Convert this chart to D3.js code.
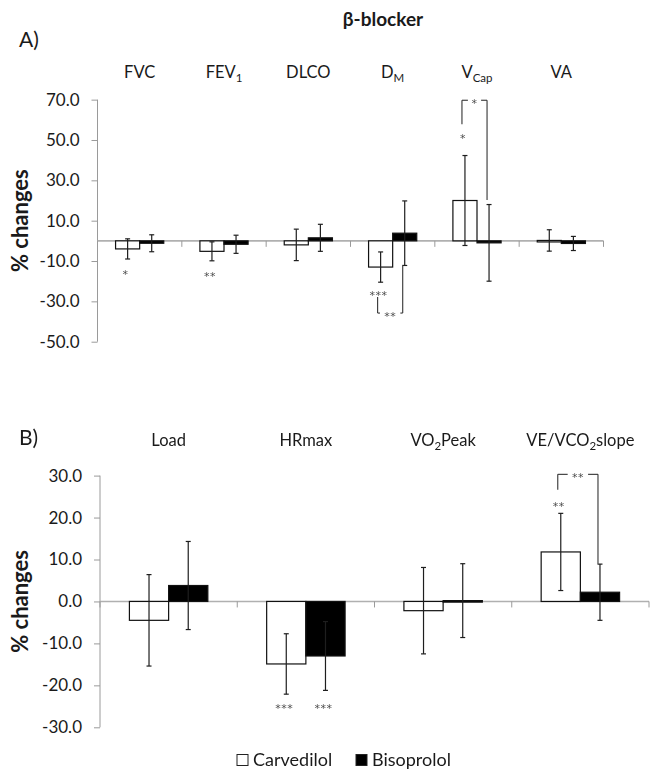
<!DOCTYPE html>
<html><head><meta charset="utf-8">
<script src="https://cdn.jsdelivr.net/npm/d3@7"></script>
<style>body{margin:0;background:#fff}svg{display:block}text{font-family:Lato,"Open Sans",sans-serif;fill:#1a1a1a}.stars{opacity:0.99;will-change:transform}</style>
</head><body><svg id="c" width="662" height="773"></svg>
<script>
// ---------- data ----------
const chartTitle = "β-blocker";
const seriesNames = ["Carvedilol", "Bisoprolol"];

const panelLabels = ["A)", "B)"];

const catsA = ["FVC", "FEV_{1}", "DLCO", "D_{M}", "V_{Cap}", "VA"];
const carvA = [-4.0, -5.2, -2.0, -13.0, 20.0, 0.2];
const carvErrA = [5.0, 4.7, 7.8, 7.5, 22.3, 5.3];
const bisoA = [-1.2, -1.7, 1.5, 3.8, -1.0, -1.3];
const bisoErrA = [4.2, 4.5, 6.7, 16.0, 19.0, 3.5];
const ticksA = [-50, -30, -10, 10, 30, 50, 70];
const starsA = [
  {cat: 0, series: 0, text: "*", at: -15.3},
  {cat: 1, series: 0, text: "**", at: -16.4},
  {cat: 3, series: 0, text: "***", at: -25.5},
  {cat: 4, series: 0, text: "*", at: 52.0}
];
const bracketsA = [
  {cat: 3, text: "**", level: -35.8, leftEnd: -27.8, rightEnd: -12.5},
  {cat: 4, text: "*", level: 69.7, leftEnd: 57.8, rightEnd: 20.3}
];

const catsB = ["Load", "HRmax", "VO_{2}Peak", "VE/VCO_{2}slope"];
const carvB = [-4.5, -14.9, -2.2, 11.8];
const carvErrB = [10.9, 7.2, 10.3, 9.2];
const bisoB = [3.8, -13.0, 0.2, 2.2];
const bisoErrB = [10.5, 8.2, 8.8, 6.7];
const ticksB = [-30, -20, -10, 0, 10, 20, 30];
const starsB = [
  {cat: 1, series: 0, text: "***", at: -24.9},
  {cat: 1, series: 1, text: "***", at: -24.9},
  {cat: 3, series: 0, text: "**", at: 23.4}
];
const bracketsB = [
  {cat: 3, text: "**", level: 30.3, leftEnd: 26.6, rightEnd: 9.0}
];

// ---------- drawing ----------
const svg = d3.select("#c");
const axisColor = "#9a9a9a";
const ink = "#1e1e1e";

svg.append("text").attr("x", 383).attr("y", 26).attr("text-anchor", "middle")
  .style("font-weight", "bold").style("font-size", "19px").text(chartTitle);

function richText(sel, s, subSize) {
  const parts = s.split(/_\{([^}]*)\}/);
  parts.forEach((p, i) => {
    if (!p) return;
    if (i % 2 === 1) {
      sel.append("tspan").attr("dy", 4).style("font-size", subSize).text(p);
    } else {
      const t = sel.append("tspan").text(p);
      if (i > 0) t.attr("dy", -4);
    }
  });
}

function panel(cfg) {
  const g = svg.append("g");
  const x = d3.scaleBand().domain(d3.range(cfg.cats.length)).range([cfg.left, cfg.right]);
  const xs = d3.scaleBand().domain([0, 1]).range([0, x.bandwidth()]).paddingInner(0).paddingOuter(0.75);
  const y = d3.scaleLinear().domain(cfg.domain).range([cfg.bottom, cfg.top]);
  const y0 = y(0);

  // panel label
  g.append("text").attr("x", 19).attr("y", cfg.labelY).style("font-size", "21px").text(cfg.label);

  // category labels
  cfg.cats.forEach((c, i) => {
    const t = g.append("text").attr("x", x(i) + x.bandwidth() / 2).attr("y", cfg.catY)
      .attr("text-anchor", "middle").style("font-size", "16.5px");
    richText(t, c, "11.5px");
  });

  // y axis
  const ax = g.append("g").attr("transform", `translate(${cfg.left},0)`)
    .call(d3.axisLeft(y).tickValues(cfg.ticks).tickSize(6).tickSizeOuter(0).tickPadding(12)
      .tickFormat(v => v.toFixed(1)));
  ax.select(".domain").attr("stroke", axisColor).attr("d", `M0,${y(cfg.domain[1])}V${y(cfg.domain[0])}`);
  ax.selectAll(".tick line").attr("stroke", axisColor);
  ax.selectAll(".tick text").style("font-size", "17px").style("font-family", "Lato, sans-serif").attr("fill", "#1a1a1a");

  // y title
  g.append("text").attr("transform", `translate(${cfg.titleX},${(cfg.top + cfg.bottom) / 2}) rotate(-90)`)
    .attr("text-anchor", "middle").attr("dy", "0.35em")
    .style("font-weight", "bold").style("font-size", "22px").text("% changes");

  // zero line
  g.append("line").attr("x1", cfg.left).attr("x2", cfg.right).attr("y1", y0).attr("y2", y0)
    .attr("stroke", "#b0b0b0").attr("stroke-width", 1.6);
  // category ticks
  d3.range(cfg.cats.length + 1).forEach(i => {
    const xx = i < cfg.cats.length ? x(i) : cfg.right;
    g.append("line").attr("x1", xx).attr("x2", xx).attr("y1", y0).attr("y2", y0 + 6)
      .attr("stroke", axisColor);
  });

  const series = [
    {vals: cfg.carv, err: cfg.carvErr, fill: "#fff"},
    {vals: cfg.biso, err: cfg.bisoErr, fill: "#000"}
  ];
  const cx = (i, s) => x(i) + xs(s) + xs.bandwidth() / 2;

  series.forEach((ser, s) => {
    ser.vals.forEach((v, i) => {
      const yv = y(v);
      g.append("rect").attr("x", x(i) + xs(s)).attr("width", xs.bandwidth())
        .attr("y", Math.min(yv, y0)).attr("height", Math.max(Math.abs(yv - y0), 1.5))
        .attr("fill", ser.fill).attr("stroke", "#111").attr("stroke-width", 1.2);
    });
  });
  series.forEach((ser, s) => {
    ser.vals.forEach((v, i) => {
      const c = cx(i, s), hi = y(v + ser.err[i]), lo = y(v - ser.err[i]);
      g.append("line").attr("x1", c).attr("x2", c).attr("y1", hi).attr("y2", lo)
        .attr("stroke", ink).attr("stroke-width", 1.2);
      [hi, lo].forEach(yy => g.append("line").attr("x1", c - 2.5).attr("x2", c + 2.5)
        .attr("y1", yy).attr("y2", yy).attr("stroke", ink).attr("stroke-width", 1.2));
    });
  });

  // significance stars
  const sg = g.append("g").attr("class", "stars");
  const starText = (xx, yy, txt) => sg.append("text").attr("x", xx).attr("y", yy + 6.5)
    .attr("text-anchor", "middle").style("font-size", "11px").style("font-family", "'DejaVu Sans', sans-serif")
    .style("letter-spacing", "0.5px").style("fill", "#4a4a4a").text(txt);
  cfg.stars.forEach(st => starText(cx(st.cat, st.series) - 2, y(st.at), st.text));

  cfg.brackets.forEach(b => {
    const xl = cx(b.cat, 0) - 3, xr = cx(b.cat, 1) - 2, yl = y(b.level);
    const mid = (xl + xr) / 2, half = b.text.length * 3.6 + 3;
    const ln = (x1, y1, x2, y2) => g.append("line").attr("x1", x1).attr("y1", y1)
      .attr("x2", x2).attr("y2", y2).attr("stroke", "#333").attr("stroke-width", 1.1);
    ln(xl, y(b.leftEnd), xl, yl);
    ln(xl, yl, mid - half, yl);
    ln(mid + half, yl, xr, yl);
    ln(xr, yl, xr, y(b.rightEnd));
    starText(mid, yl, b.text);
  });
}

panel({cats: catsA, carv: carvA, carvErr: carvErrA, biso: bisoA, bisoErr: bisoErrA,
  ticks: ticksA, domain: [-50, 70], left: 97.5, right: 603.5, top: 99.65, bottom: 341.7,
  label: panelLabels[0], labelY: 47, catY: 78, titleX: 20, stars: starsA, brackets: bracketsA});

panel({cats: catsB, carv: carvB, carvErr: carvErrB, biso: bisoB, bisoErr: bisoErrB,
  ticks: ticksB, domain: [-30, 30], left: 100, right: 649, top: 475.6, bottom: 727.3,
  label: panelLabels[1], labelY: 445, catY: 446, titleX: 20, stars: starsB, brackets: bracketsB});

// legend
const leg = svg.append("g");
[{x: 237, fill: "#fff"}, {x: 356, fill: "#000"}].forEach((d, i) => {
  leg.append("rect").attr("x", d.x).attr("y", 754.5).attr("width", 11).attr("height", 11)
    .attr("fill", d.fill).attr("stroke", "#222").attr("stroke-width", 1);
  leg.append("text").attr("x", d.x + 16).attr("y", 766).style("font-size", "18px").text(seriesNames[i]);
});
</script></body></html>
